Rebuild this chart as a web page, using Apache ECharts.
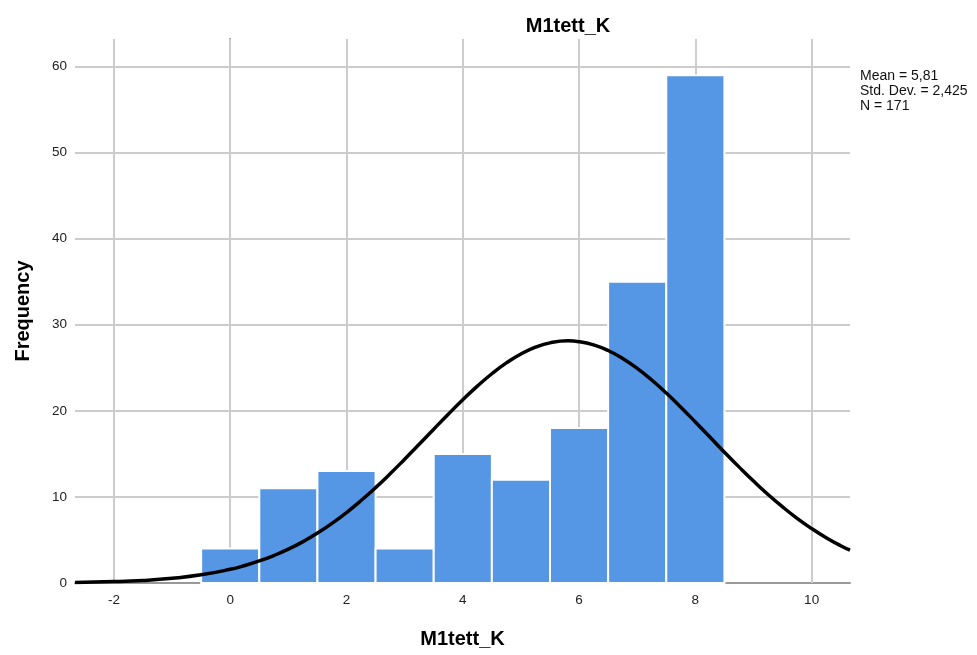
<!DOCTYPE html>
<html><head><meta charset="utf-8">
<script src="https://cdn.jsdelivr.net/npm/echarts@6/dist/echarts.min.js"></script>
<style>html,body{margin:0;padding:0;background:#fff}#c{width:977px;height:655px}</style>
</head><body><div id="c"></div>
<script>
const binCenters = [0, 1, 2, 3, 4, 5, 6, 7, 8];
const frequencies = [4, 11, 13, 4, 15, 12, 18, 35, 59];
const curveX = [-2.67, -2, -1.5, -1, -0.5, 0, 0.25, 0.5, 0.75, 1, 1.25, 1.5, 1.75, 2, 2.25, 2.5, 2.75, 3, 3.25, 3.5, 3.75, 4, 4.25, 4.5, 4.75, 5, 5.25, 5.5, 5.81, 6, 6.25, 6.5, 6.75, 7, 7.25, 7.5, 7.75, 8, 8.25, 8.5, 8.75, 9, 9.25, 9.5, 9.75, 10, 10.25, 10.5, 10.66];
const curveY = [0.06, 0.16, 0.30, 0.55, 0.95, 1.59, 2.03, 2.56, 3.19, 3.93, 4.80, 5.80, 6.93, 8.19, 9.58, 11.08, 12.69, 14.38, 16.11, 17.87, 19.61, 21.29, 22.87, 24.31, 25.57, 26.60, 27.39, 27.90, 28.13, 28.04, 27.67, 27.01, 26.09, 24.94, 23.58, 22.07, 20.43, 18.71, 16.96, 15.20, 13.49, 11.84, 10.28, 8.84, 7.51, 6.32, 5.26, 4.33, 3.81];
const xTicks = [-2, 0, 2, 4, 6, 8, 10];
const yTicks = [10, 20, 30, 40, 50, 60];
const statLines = ['Mean = 5,81', 'Std. Dev. = 2,425', 'N = 171'];
const titleText = 'M1tett_K';
const xName = 'M1tett_K';
const yName = 'Frequency';

const chart = echarts.init(document.getElementById('c'));
const FONT = 'Liberation Sans, Arial, sans-serif';
const GRID = '#cccccc';
chart.setOption({
  animation: false,
  title: {text: titleText, left: 563, top: 11, textAlign: 'center',
    textStyle: {fontFamily: FONT, fontSize: 20, fontWeight: 'bold', color: '#000'}},
  graphic: [{type: 'text', left: 860, top: 69,
    style: {text: statLines.join('\n'), font: '14px ' + FONT, fill: '#111', lineHeight: 15}}],
  grid: {left: 75, right: 127, top: 39, bottom: 72},
  xAxis: {type: 'value', min: -2.67, max: 10.66,
    name: xName, nameLocation: 'middle', nameGap: 46,
    nameTextStyle: {fontFamily: FONT, fontSize: 20, fontWeight: 'bold', color: '#000'},
    axisLine: {show: true, onZero: false, lineStyle: {color: '#999', width: 2}},
    axisTick: {show: false},
    splitLine: {show: false},
    axisLabel: {customValues: xTicks, fontFamily: FONT, fontSize: 13.5, color: '#222', margin: 10}},
  yAxis: {type: 'value', min: 0, max: 63.2,
    name: yName, nameLocation: 'middle', nameGap: 42,
    nameTextStyle: {fontFamily: FONT, fontSize: 20, fontWeight: 'bold', color: '#000'},
    axisLine: {show: true, lineStyle: {color: '#888', width: 2}},
    axisTick: {show: false},
    splitLine: {show: false},
    axisLabel: {customValues: [0].concat(yTicks), fontFamily: FONT, fontSize: 13.5, color: '#222', margin: 8}},
  series: [
    {type: 'line', data: [], silent: true, z: 1,
      markLine: {silent: true, z: 1, symbol: 'none', label: {show: false},
        lineStyle: {color: GRID, width: 2, type: 'solid'},
        data: xTicks.map(v => ({xAxis: v})).concat(yTicks.map(v => ({yAxis: v})))}},
    {type: 'custom', data: binCenters.map((c, i) => [c, frequencies[i]]),
      renderItem: function (params, api) {
        const c = api.value(0), f = api.value(1);
        const p0 = api.coord([c - 0.5, f]);
        const p1 = api.coord([c + 0.5, 0]);
        return {type: 'rect', shape: {x: p0[0], y: p0[1], width: p1[0] - p0[0], height: p1[1] - p0[1]},
          style: {fill: '#5596e5', stroke: '#ffffff', lineWidth: 2}};
      }, z: 10},
    {type: 'line', data: curveX.map((x, i) => [x, curveY[i]]), smooth: true, showSymbol: false,
      lineStyle: {color: '#000', width: 3.5}, z: 11}
  ]
});
</script></body></html>
